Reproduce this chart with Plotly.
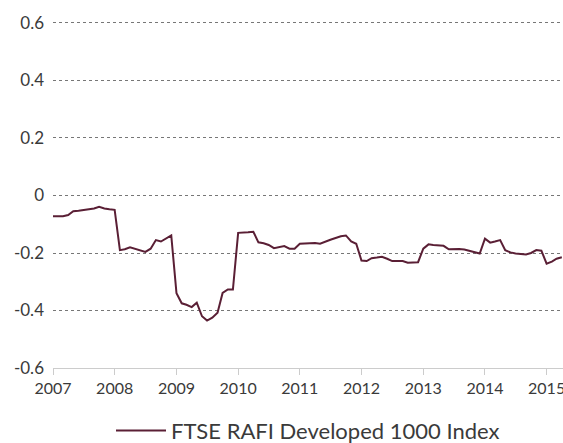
import pandas as pd
import plotly.graph_objects as go

series_name = "FTSE RAFI Developed 1000 Index"
dates = pd.date_range("2007-01-01", periods=100, freq="MS")
values = [
    -0.072, -0.071, -0.072, -0.068, -0.055, -0.053, -0.050, -0.048, -0.045, -0.039,
    -0.045, -0.048, -0.050, -0.190, -0.187, -0.180, -0.185, -0.190, -0.196, -0.185,
    -0.155, -0.160, -0.150, -0.139, -0.340, -0.375, -0.380, -0.388, -0.373, -0.420,
    -0.435, -0.425, -0.408, -0.339, -0.327, -0.327, -0.130, -0.130, -0.128, -0.126,
    -0.163, -0.166, -0.172, -0.183, -0.180, -0.176, -0.185, -0.185, -0.168, -0.167,
    -0.167, -0.165, -0.168, -0.160, -0.154, -0.148, -0.142, -0.139, -0.160, -0.168,
    -0.226, -0.228, -0.218, -0.216, -0.213, -0.220, -0.228, -0.228, -0.228, -0.234,
    -0.233, -0.232, -0.185, -0.170, -0.172, -0.173, -0.175, -0.187, -0.186, -0.186,
    -0.188, -0.193, -0.198, -0.202, -0.150, -0.164, -0.160, -0.155, -0.190, -0.198,
    -0.202, -0.203, -0.205, -0.200, -0.190, -0.192, -0.237, -0.230, -0.220, -0.215,
]
year_ticks = [f"{y}-01-01" for y in range(2007, 2016)]
year_labels = [str(y) for y in range(2007, 2016)]
y_ticks = [-0.6, -0.4, -0.2, 0, 0.2, 0.4, 0.6]
y_labels = ["-0.6", "-0.4", "-0.2", "0", "0.2", "0.4", "0.6"]

fig = go.Figure()
fig.add_trace(go.Scatter(
    x=dates, y=values, mode="lines", name=series_name,
    line=dict(color="#5a1f35", width=2),
))

fig.update_layout(
    width=563, height=443,
    margin=dict(l=53, r=0, t=20, b=75, autoexpand=False),
    paper_bgcolor="white", plot_bgcolor="white",
    font=dict(family="Lato", color="#3a3a3a", size=16),
    showlegend=True,
    legend=dict(
        orientation="h", x=0.5, xanchor="center", y=-0.18, yanchor="middle",
        font=dict(size=22, color="#3a3a3a"), itemwidth=50,
    ),
    xaxis=dict(
        type="date", range=["2007-01-01", "2015-04-08"],
        tickvals=year_ticks, ticktext=year_labels,
        showgrid=False, showline=True, linecolor="#cccccc", linewidth=1,
        ticks="outside", ticklen=6, tickcolor="#cccccc",
        tickfont=dict(size=16), automargin=False, ticklabeloverflow="allow",
    ),
    yaxis=dict(
        range=[-0.6, 0.6104], tickvals=y_ticks, ticktext=y_labels,
        showgrid=True, gridcolor="#777777", griddash="dot", gridwidth=1,
        zeroline=False, showline=False, ticks="",
        ticklabelstandoff=8, automargin=False,
        tickfont=dict(size=17),
    ),
)
fig.write_html(
    "out.html",
    config={"displayModeBar": False},
    post_script="document.body.style.margin='0';document.body.style.overflow='hidden';",
)
